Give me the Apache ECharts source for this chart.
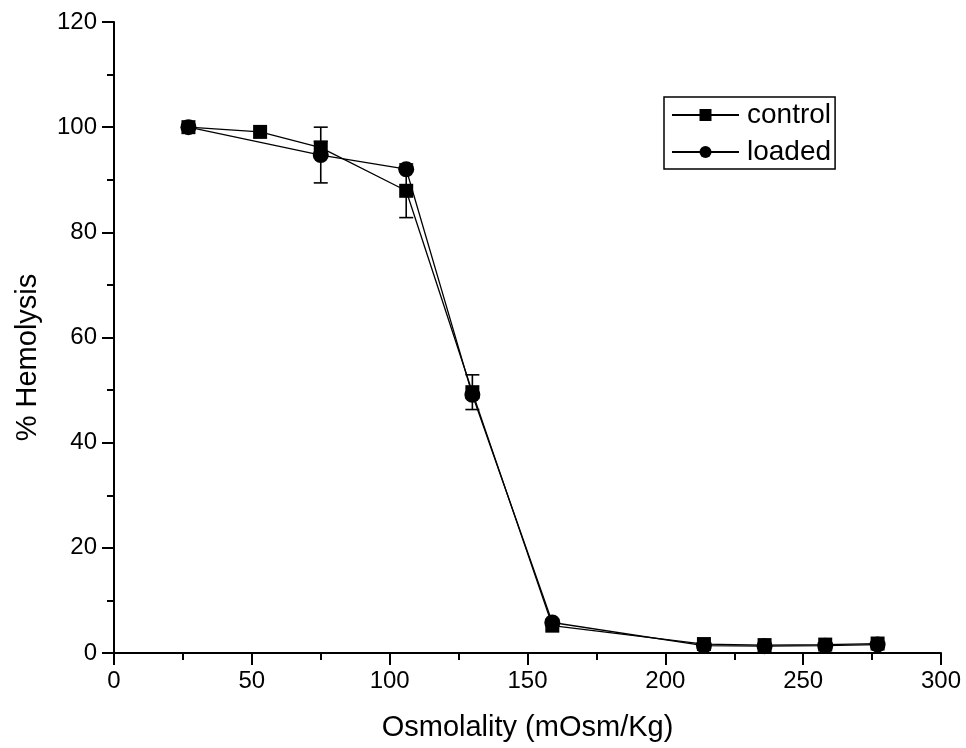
<!DOCTYPE html>
<html>
<head>
<meta charset="utf-8">
<title>Osmotic fragility</title>
<script src="https://cdn.jsdelivr.net/npm/echarts@6/dist/echarts.min.js"></script>
<style>
  html, body { margin: 0; padding: 0; background: #fff; }
  #chart { width: 966px; height: 748px; }
</style>
</head>
<body>
<div id="chart"></div>
<script>
// Osmolality (mOsm/Kg) and % hemolysis for each group
const controlX = [27, 53, 75, 106, 130, 159, 214, 236, 258, 277];
const controlY = [100, 99.1, 96.1, 87.9, 49.6, 5.2, 1.7, 1.5, 1.6, 1.8];
const controlErr = [0, 0, 1.2, 5.1, 3.3, 0, 0, 0, 0, 0];

const loadedX = [27, 75, 106, 130, 159, 214, 236, 258, 277];
const loadedY = [100, 94.7, 92.0, 49.1, 5.8, 1.4, 1.3, 1.4, 1.6];
const loadedErr = [0, 5.3, 0, 0, 0, 0, 0, 0, 0];

const xTicks = [0, 50, 100, 150, 200, 250, 300];
const yTicks = [0, 20, 40, 60, 80, 100, 120];

const FONT = '"Liberation Sans", Arial, sans-serif';

function pairs(xs, ys) { return xs.map((x, i) => [x, ys[i]]); }
function errRows(xs, ys, es) {
  return xs.map((x, i) => [x, ys[i], es[i]]).filter(r => r[2] > 0);
}

// vertical error bar with caps
function renderErr(params, api) {
  const x = api.value(0), y = api.value(1), e = api.value(2);
  const top = api.coord([x, y + e]);
  const bot = api.coord([x, y - e]);
  const half = 7;
  const style = { stroke: '#000', lineWidth: 1.6, fill: null };
  return {
    type: 'group',
    children: [
      { type: 'line', shape: { x1: top[0], y1: top[1], x2: bot[0], y2: bot[1] }, style },
      { type: 'line', shape: { x1: top[0] - half, y1: top[1], x2: top[0] + half, y2: top[1] }, style },
      { type: 'line', shape: { x1: bot[0] - half, y1: bot[1], x2: bot[0] + half, y2: bot[1] }, style }
    ]
  };
}

const chart = echarts.init(document.getElementById('chart'), null, { renderer: 'canvas' });

const axisCommon = {
  axisLine: { show: true, onZero: false, lineStyle: { color: '#000', width: 2 } },
  axisTick: { show: true, inside: false, length: 12, lineStyle: { color: '#000', width: 2 } },
  minorTick: { show: true, splitNumber: 2, length: 7, lineStyle: { color: '#000', width: 2 } },
  splitLine: { show: false },
  axisLabel: { color: '#000', fontFamily: FONT, fontSize: 24 },
  nameTextStyle: { color: '#000', fontFamily: FONT, fontSize: 29 }
};

chart.setOption({
  animation: false,
  backgroundColor: '#fff',
  grid: { left: 114, right: 25, top: 22, bottom: 95, containLabel: false },
  xAxis: Object.assign({}, axisCommon, {
    type: 'value',
    min: xTicks[0], max: xTicks[xTicks.length - 1], interval: 50,
    name: 'Osmolality (mOsm/Kg)', nameLocation: 'middle', nameGap: 60,
    axisLabel: Object.assign({}, axisCommon.axisLabel, { margin: 16 })
  }),
  yAxis: Object.assign({}, axisCommon, {
    type: 'value',
    min: yTicks[0], max: yTicks[yTicks.length - 1], interval: 20,
    name: '% Hemolysis', nameLocation: 'middle', nameGap: 72, nameRotate: 90,
    nameTextStyle: Object.assign({}, axisCommon.nameTextStyle, { padding: [0, 40, 0, 0] }),
    axisLabel: Object.assign({}, axisCommon.axisLabel, { margin: 17 })
  }),
  legend: {
    data: ['control', 'loaded'],
    orient: 'vertical',
    left: 664, top: 97,
    borderColor: '#000', borderWidth: 1.5,
    padding: [4, 4, 3, 7],
    itemWidth: 67, itemHeight: 15, itemGap: 9,
    textStyle: { color: '#000', fontFamily: FONT, fontSize: 28, padding: [0, 0, 0, 3] }
  },
  series: [
    {
      name: 'control', type: 'line', data: pairs(controlX, controlY),
      symbol: 'rect', symbolSize: 14, showSymbol: true,
      lineStyle: { color: '#000', width: 1.3 },
      itemStyle: { color: '#000' }, z: 3
    },
    {
      name: 'control-err', type: 'custom', data: errRows(controlX, controlY, controlErr),
      renderItem: renderErr, z: 2, silent: true
    },
    {
      name: 'loaded', type: 'line', data: pairs(loadedX, loadedY),
      symbol: 'circle', symbolSize: 16, showSymbol: true,
      lineStyle: { color: '#000', width: 1.3 },
      itemStyle: { color: '#000' }, z: 4
    },
    {
      name: 'loaded-err', type: 'custom', data: errRows(loadedX, loadedY, loadedErr),
      renderItem: renderErr, z: 2, silent: true
    }
  ]
});
</script>
</body>
</html>
